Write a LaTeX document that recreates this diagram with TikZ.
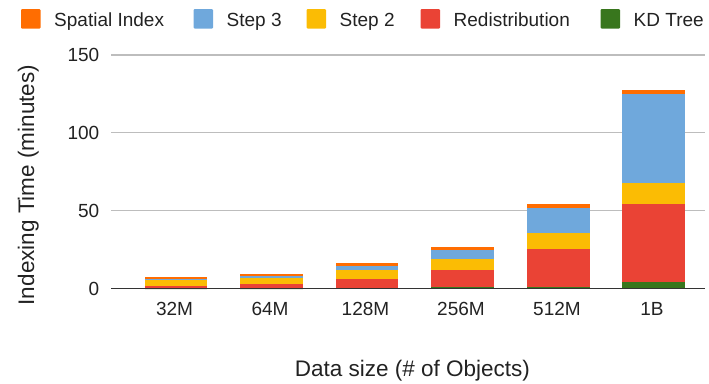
\documentclass[tikz,border=0pt]{standalone}
\usepackage{fontspec}
\setmainfont{Liberation Sans}
\definecolor{cSpatial}{HTML}{FF6D01}
\definecolor{cStepThree}{HTML}{6FA8DC}
\definecolor{cStepTwo}{HTML}{FBBC04}
\definecolor{cRedist}{HTML}{EA4335}
\definecolor{cKD}{HTML}{38761D}
\definecolor{txtcol}{HTML}{222222}
\definecolor{gridcol}{HTML}{BDBDBD}
\definecolor{basecol}{HTML}{333333}
\begin{document}
\begin{tikzpicture}[x=1pt,y=-1pt,
  ticklab/.style={text=txtcol,inner sep=0pt,font=\fontsize{19}{22}\selectfont},
  axtitle/.style={text=txtcol,inner sep=0pt,font=\fontsize{22.5}{26}\selectfont},
  legtext/.style={text=txtcol,inner sep=0pt,anchor=base west,font=\fontsize{19}{22}\selectfont},
  gridline/.style={draw=gridcol,line width=1.1pt},
  baseline/.style={draw=basecol,line width=1.4pt}]
\useasboundingbox (0,0) rectangle (709,383);
% value v (minutes) sits at y = 288.5 - 1.5567 v
\foreach \v in {50,100,150}{
  \draw[gridline] (111,{288.5-1.5567*\v}) -- (705,{288.5-1.5567*\v});
}
\foreach \v/\nm in {0/t0,50/t50,100/t100,150/t150}{
  \node[ticklab,anchor=base east] (\nm) at (99.5,{288.5-1.5567*\v+6.8}) {\v};
}
% stacked bars: centre / label / KD Tree / Redistribution / Step 2 / Step 3 / Spatial Index (cumulative)
\foreach \xc/\lab/\g/\r/\s/\t/\o [count=\i] in {
  176/32M/0/1.8/5.5/6.1/7.4,
  271.5/64M/0/3.0/6.8/8.1/9.3,
  367/128M/0.2/6.1/11.9/14.6/16.4,
  462.5/256M/1.2/11.9/18.9/24.7/26.6,
  558.5/512M/1.2/25.4/35.7/51.5/54.5,
  653.5/1B/4.2/54.5/67.8/124.8/127.5}{
  \fill[cKD] (\xc-31.35,288.5) rectangle (\xc+31.35,{288.5-1.5567*\g});
  \fill[cRedist] (\xc-31.35,{288.5-1.5567*\g}) rectangle (\xc+31.35,{288.5-1.5567*\r});
  \fill[cStepTwo] (\xc-31.35,{288.5-1.5567*\r}) rectangle (\xc+31.35,{288.5-1.5567*\s});
  \fill[cStepThree] (\xc-31.35,{288.5-1.5567*\s}) rectangle (\xc+31.35,{288.5-1.5567*\t});
  \fill[cSpatial] (\xc-31.35,{288.5-1.5567*\t}) rectangle (\xc+31.35,{288.5-1.5567*\o});
  \node[ticklab,anchor=base] (x\i) at (\xc-1.5,315.7) {\lab};
}
\draw[baseline] (111,288.5) -- (705,288.5);
% axis titles
\node[axtitle,anchor=base] (xtitle) at (412.3,376) {Data size (\# of Objects)};
\node[axtitle,anchor=base,rotate=90] (ytitle) at (34,185) {Indexing Time (minutes)};
% legend
\foreach \sx/\col/\txt [count=\j] in {
  21/cSpatial/Spatial Index,
  193.5/cStepThree/Step 3,
  306.5/cStepTwo/Step 2,
  420.5/cRedist/Redistribution,
  600.5/cKD/KD Tree}{
  \fill[\col,rounded corners=1pt] (\sx,9.2) rectangle (\sx+19.5,28.5);
  \node[legtext] (leg\j) at (\sx+33,26.5) {\txt};
}
\end{tikzpicture}
\end{document}
